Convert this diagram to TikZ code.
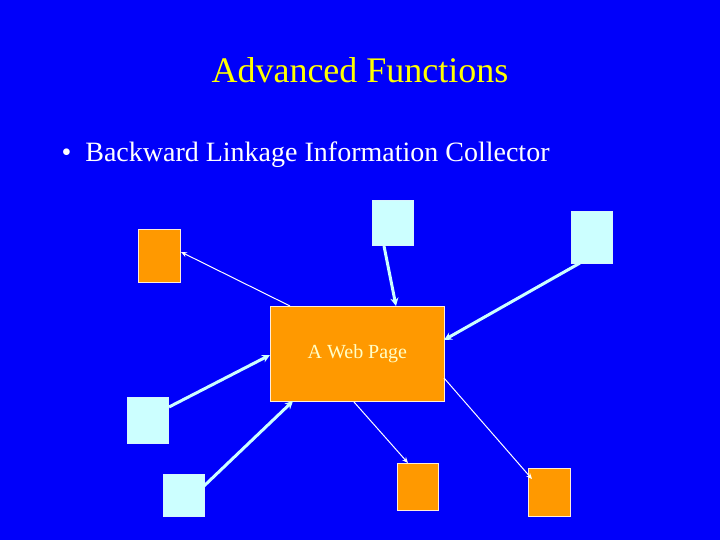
\documentclass[tikz,border=0pt]{standalone}
\usepackage{fontspec}
\setmainfont{Liberation Serif}
\usetikzlibrary{arrows.meta}
\definecolor{bgblue}{RGB}{0,0,250}
\definecolor{orng}{RGB}{255,153,0}
\definecolor{lcyan}{RGB}{204,255,255}
\definecolor{ttl}{RGB}{255,255,0}
\definecolor{wtxt}{RGB}{255,255,200}
\begin{document}
\begin{tikzpicture}[x=1pt,y=-1pt,
  org/.style={draw=white!85!orange, line width=0.8pt, fill=orng, inner sep=0pt, anchor=north west},
  cyn/.style={draw=white!85!cyan, line width=0.8pt, fill=lcyan, inner sep=0pt, anchor=north west},
  thinarr/.style={draw=white, line width=1pt, -{Stealth[length=6pt,width=5pt]}},
  thickarr/.style={draw=lcyan, line width=3pt, -{Stealth[length=8pt,width=8pt]}}]
\fill[bgblue] (0,0) rectangle (720,540);
\useasboundingbox (0,0) rectangle (720,540);
\node[text=ttl, font=\fontsize{36}{40}\selectfont] (title) at (360,70) {Advanced Functions};
\node[text=white, anchor=west, font=\fontsize{28}{32}\selectfont] (bullet) at (58,155) {\textbullet\ \ Backward Linkage Information Collector};
\node[org, minimum width=174pt, minimum height=95pt, text=wtxt, font=\fontsize{20}{24}\selectfont] (web) at (270,306) {A Web Page};
\node[org, minimum width=42pt, minimum height=53pt] (o1) at (138,229) {};
\node[org, minimum width=41pt, minimum height=47pt] (o2) at (397,463) {};
\node[org, minimum width=42pt, minimum height=48pt] (o3) at (528,468) {};
\node[cyn, minimum width=41pt, minimum height=45pt] (c1) at (372,200) {};
\node[cyn, minimum width=41pt, minimum height=52pt] (c2) at (571,211) {};
\node[cyn, minimum width=41pt, minimum height=46pt] (c3) at (127,397) {};
\node[cyn, minimum width=41pt, minimum height=42pt] (c4) at (163,474) {};
\coordinate (w1) at (290,306);
\coordinate (o1e) at (181,252);
\coordinate (c1s) at (384,246);
\coordinate (w2) at (396,306);
\coordinate (c2s) at (580,263);
\coordinate (w3) at (444,340);
\coordinate (c3s) at (169,407);
\coordinate (w4) at (270,355);
\coordinate (c4s) at (204,486);
\coordinate (w5) at (293,401);
\coordinate (w6) at (354,402);
\coordinate (o2e) at (408,463);
\coordinate (w7) at (444,378);
\coordinate (o3e) at (532,479);
\draw[thinarr] (w1) -- (o1e);
\draw[thickarr] (c1s) -- (w2);
\draw[thickarr] (c2s) -- (w3);
\draw[thickarr] (c3s) -- (w4);
\draw[thickarr] (c4s) -- (w5);
\draw[thinarr] (w6) -- (o2e);
\draw[thinarr] (w7) -- (o3e);
\end{tikzpicture}
\end{document}
